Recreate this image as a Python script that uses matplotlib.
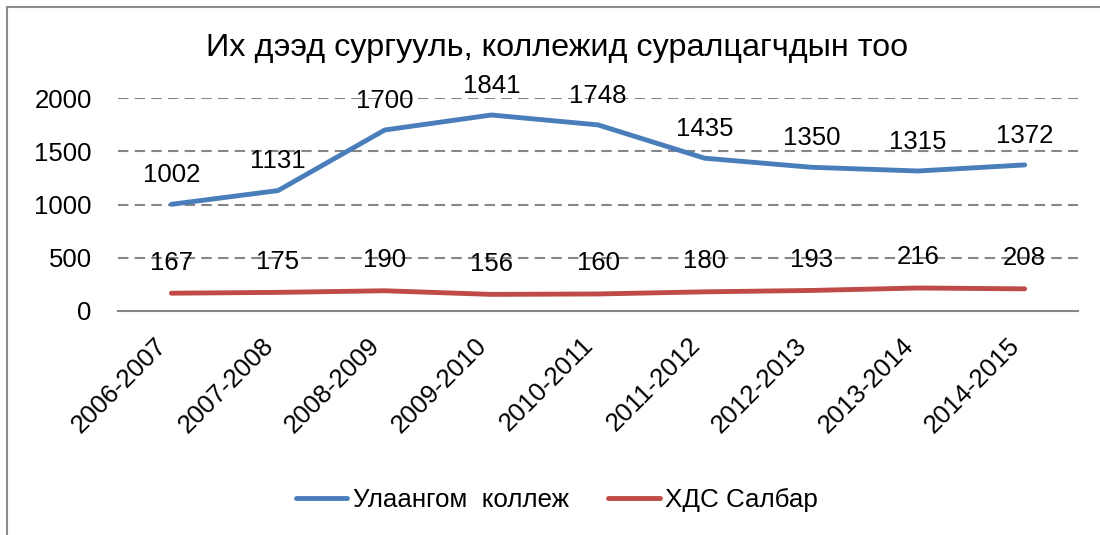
import matplotlib.pyplot as plt
from matplotlib.patches import Rectangle

years = ['2006-2007', '2007-2008', '2008-2009', '2009-2010', '2010-2011',
         '2011-2012', '2012-2013', '2013-2014', '2014-2015']
college = [1002, 1131, 1700, 1841, 1748, 1435, 1350, 1315, 1372]
branch = [167, 175, 190, 156, 160, 180, 193, 216, 208]
yticks = [0, 500, 1000, 1500, 2000]

plt.rcParams['font.family'] = ['Liberation Sans', 'DejaVu Sans']

fig = plt.figure(figsize=(11, 5.35), dpi=100)
ax = fig.add_axes([0.1073, 0.4187, 0.8727, 0.398])

x = list(range(len(years)))
ax.plot(x, college, color='#4A7EBB', lw=3.5, solid_capstyle='round',
        label='Улаангом  коллеж', zorder=3)
ax.plot(x, branch, color='#BE4B48', lw=3.5, solid_capstyle='round',
        label='ХДС Салбар', zorder=3)

for xi, v in zip(x, college):
    ax.annotate(str(v), (xi, v), xytext=(0, 21), textcoords='offset points',
                ha='center', va='center', fontsize=18.5)
for xi, v in zip(x, branch):
    ax.annotate(str(v), (xi, v), xytext=(0, 22), textcoords='offset points',
                ha='center', va='center', fontsize=18.5)

ax.set_xlim(-0.5, len(years) - 0.5)
ax.set_ylim(0, 2000)
ax.set_yticks(yticks)
ax.set_yticklabels([str(t) for t in yticks], fontsize=18.5)
ax.set_xticks(x)
ax.set_xticklabels(years, rotation=45, ha='right', va='top', fontsize=18.5)
ax.tick_params(length=0)
ax.tick_params(axis='y', pad=19)
ax.tick_params(axis='x', pad=16)

for t in yticks[1:]:
    ax.axhline(t, color='#868686', lw=1.5, ls=(0, (5, 3)), zorder=1)
for s in ['top', 'right', 'left']:
    ax.spines[s].set_visible(False)
ax.spines['bottom'].set_color('#868686')
ax.spines['bottom'].set_linewidth(1.5)

fig.text(0.506, 0.91, 'Их дээд сургууль, коллежид суралцагчдын тоо',
         ha='center', va='center', fontsize=23.3)

fig.legend(loc='center', bbox_to_anchor=(0.506, 0.065), ncol=2,
           frameon=False, fontsize=18.7, handlelength=2.0,
           handletextpad=0.2, columnspacing=1.5)

fig.patches.append(Rectangle((7 / 1100, -0.1), 1.2, 1.1 - 7 / 535,
                             transform=fig.transFigure, fill=False,
                             edgecolor='#8c8c8c', lw=1.5))

fig.savefig('out.png', dpi=100)
